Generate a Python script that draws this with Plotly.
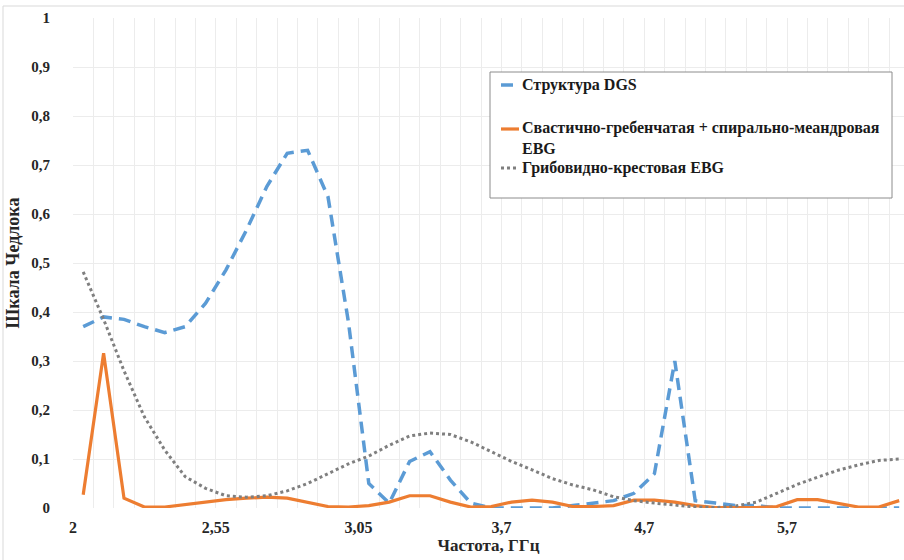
import plotly.graph_objects as go

# Frequency sweep: 41 measurement points on a category-style axis
n_points = 41
tick_labels = ["2", "2,55", "3,05", "3,7", "4,7", "5,7"]
tick_label_index = [0, 7, 14, 21, 28, 35]

dgs = [0.37, 0.39, 0.385, 0.37, 0.358, 0.37, 0.418, 0.486, 0.567, 0.656,
       0.724, 0.73, 0.635, 0.38, 0.05, 0.01, 0.095, 0.115, 0.057, 0.01,
       0.0, 0.0, 0.0, 0.0, 0.005, 0.01, 0.015, 0.03, 0.07, 0.30,
       0.015, 0.01, 0.005, 0.005, 0.0, 0.0, 0.0, 0.0, 0.0, 0.0, 0.0]

swastika_ebg = [0.027, 0.316, 0.02, 0.002, 0.002, 0.007, 0.012, 0.017, 0.02, 0.022,
                0.02, 0.012, 0.003, 0.002, 0.005, 0.012, 0.025, 0.025, 0.012, 0.002,
                0.003, 0.012, 0.016, 0.012, 0.003, 0.003, 0.005, 0.016, 0.016, 0.012,
                0.005, 0.001, 0.001, 0.001, 0.003, 0.017, 0.017, 0.01, 0.002, 0.002,
                0.015]

mushroom_ebg = [0.482, 0.385, 0.28, 0.186, 0.118, 0.064, 0.04, 0.025, 0.022, 0.025,
                0.035, 0.05, 0.07, 0.09, 0.106, 0.128, 0.147, 0.153, 0.15, 0.135,
                0.115, 0.095, 0.078, 0.06, 0.047, 0.037, 0.023, 0.015, 0.01, 0.006,
                0.002, 0.001, 0.004, 0.012, 0.03, 0.048, 0.063, 0.077, 0.088, 0.097,
                0.1]

series_names = ["Структура DGS",
                "Свастично-гребенчатая + спирально-меандровая<br>EBG",
                "Грибовидно-крестовая EBG"]

BLUE = "#5B9BD5"
ORANGE = "#ED7D31"
GRAY = "#7F7F7F"
FONT = "Liberation Serif"

W, H = 904, 560
L, R, T, B = 73, 0, 18, 52
plot_w = W - L - R
plot_h = H - T - B
cat_px = 20.4  # pixel width of one category slot

x = list(range(n_points))

fig = go.Figure()
fig.add_trace(go.Scatter(x=x, y=dgs, mode="lines", name=series_names[0],
                         line=dict(color=BLUE, width=3.5, dash="12px,7px")))
fig.add_trace(go.Scatter(x=x, y=swastika_ebg, mode="lines", name=series_names[1],
                         line=dict(color=ORANGE, width=3.2)))
fig.add_trace(go.Scatter(x=x, y=mushroom_ebg, mode="lines", name=series_names[2],
                         line=dict(color=GRAY, width=3, dash="dot")))

# gridlines at category boundaries, labels every 7th boundary
tickvals = [i - 0.5 for i in range(n_points + 1)]
ticktext = [""] * len(tickvals)
for lab, idx in zip(tick_labels, tick_label_index):
    ticktext[idx] = lab


def px_x(px):
    return (px - L) / plot_w


def px_y(py):
    return (H - B - py) / plot_h


shapes = [
    # outer chart frame
    dict(type="rect", xref="paper", yref="paper",
         x0=px_x(3), x1=px_x(W + 10), y0=px_y(H + 10), y1=px_y(6),
         line=dict(color="#d9d9d9", width=1), fillcolor="rgba(0,0,0,0)", layer="below"),
    # legend box
    dict(type="rect", xref="paper", yref="paper",
         x0=px_x(490), x1=px_x(892), y0=px_y(198), y1=px_y(72),
         line=dict(color="#8c8c8c", width=1), fillcolor="white", layer="above"),
]

legend_rows = [
    (85, BLUE, "12px,7px", 3.5, series_names[0], 85),
    (129, ORANGE, "solid", 3.2, series_names[1], 138),
    (168, GRAY, "dot", 3, series_names[2], 168),
]
annotations = []
for sym_y, col, dash, wdt, text, text_y in legend_rows:
    shapes.append(dict(type="line", xref="paper", yref="paper",
                       x0=px_x(501), x1=px_x(519), y0=px_y(sym_y), y1=px_y(sym_y),
                       line=dict(color=col, width=wdt, dash=dash), layer="above"))
    annotations.append(dict(xref="paper", yref="paper", x=px_x(520), y=px_y(text_y),
                            xanchor="left", yanchor="middle", align="left",
                            text="<b>" + text.replace("<br>", "<br><b>") + "</b>",
                            showarrow=False,
                            font=dict(family=FONT, size=16, color="#1a1a1a")))

fig.update_layout(
    width=W, height=H,
    margin=dict(l=L, r=R, t=T, b=B, pad=0),
    paper_bgcolor="white", plot_bgcolor="white",
    showlegend=False,
    shapes=shapes,
    annotations=annotations,
    font=dict(family=FONT, color="#262626"),
    xaxis=dict(range=[-0.5, -0.5 + plot_w / cat_px], tickmode="array",
               tickvals=tickvals, ticktext=ticktext, showgrid=True,
               gridcolor="#ececec", gridwidth=1, zeroline=False, showline=False,
               ticks="", ticklabelstandoff=8,
               tickfont=dict(family=FONT, size=16, color="#262626", weight="bold"),
               title=dict(text="<b>Частота, ГГц</b>", standoff=4,
                          font=dict(family=FONT, size=17, color="#262626"))),
    yaxis=dict(range=[0, 1], tickmode="array",
               tickvals=[i / 10 for i in range(11)],
               ticktext=["0"] + ["0," + str(i) for i in range(1, 10)] + ["1"],
               showgrid=True, gridcolor="#ececec", gridwidth=1,
               zeroline=False, showline=False, ticks="", ticklabelstandoff=22,
               tickfont=dict(family=FONT, size=15, color="#262626", weight="bold"),
               title=dict(text="<b>Шкала Чедлока</b>", standoff=6,
                          font=dict(family=FONT, size=18, color="#262626"))),
)

fig.write_html("out.html")
